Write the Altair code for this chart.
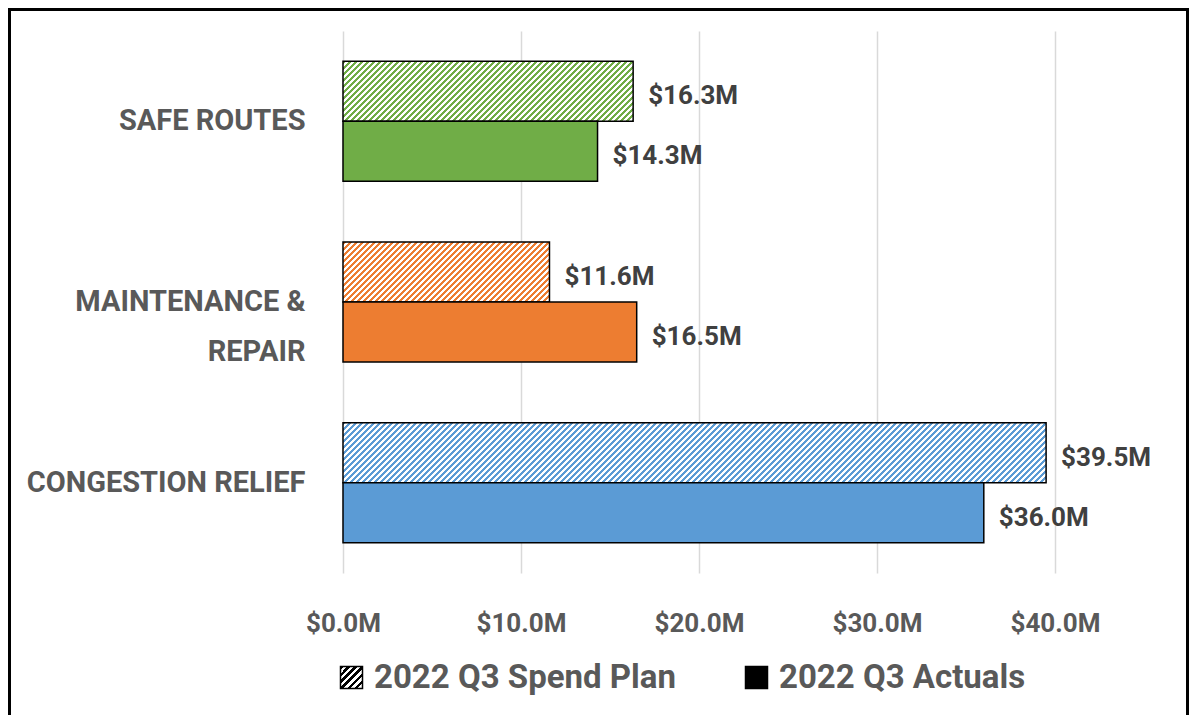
import math
import altair as alt
import pandas as pd

# ---- data ----
categories = ["SAFE ROUTES", "MAINTENANCE & REPAIR", "CONGESTION RELIEF"]
series = ["2022 Q3 Spend Plan", "2022 Q3 Actuals"]
plan_values = [16.3, 11.6, 39.5]
actual_values = [14.3, 16.5, 36.0]
x_ticks = [0, 10, 20, 30, 40]

# ---- styling ----
cat_colors = ["#70AD47", "#ED7D31", "#5B9BD5"]
FONT = "Roboto"
GRAY = "#595959"
W_PLOT, H_PLOT = 712, 542
X_MAX = 40
BAR_H = 60
PITCH = 6


def hatch(color, w, h, pitch=PITCH):
    """Diagonal '///' stripes made from a hard-stop linear gradient
    (exact pitch in pixels along x, so the stripes stay crisp)."""
    n = max(1, math.ceil((w + h) / pitch))
    span = n * pitch
    k = span * w / (w * w + h * h)
    stops = []
    for i in range(n):
        a, m, b = i / n, (i + 0.5) / n, (i + 1) / n
        stops += [
            {"offset": round(a, 6), "color": color},
            {"offset": round(m, 6), "color": color},
            {"offset": round(m, 6), "color": "#FFFFFF"},
            {"offset": round(b, 6), "color": "#FFFFFF"},
        ]
    return {"gradient": "linear", "x1": 0, "y1": 0, "x2": k, "y2": k * h / w, "stops": stops}


rows = []
for c, p, a in zip(categories, plan_values, actual_values):
    rows.append({"cat": c, "series": series[0], "amount": p})
    rows.append({"cat": c, "series": series[1], "amount": a})
df = pd.DataFrame(rows)

plan_conds, actual_conds = [], []
for c, col, p in zip(categories, cat_colors, plan_values):
    w = p / X_MAX * W_PLOT
    plan_conds.append({"test": f"datum.cat === '{c}'", "value": hatch(col, w, BAR_H)})
    actual_conds.append({"test": f"datum.cat === '{c}'", "value": col})

# second line of the two-line label is centred under the first (as in the original);
# trailing non-collapsing spaces shift it inside the right-aligned label block
label_expr = (
    "datum.label == 'MAINTENANCE & REPAIR' ? "
    "['MAINTENANCE &', 'REPAIR\u2003\u2003\u2009\u200a'] : datum.label"
)

y_enc = alt.Y(
    "cat:N",
    sort=categories,
    scale=alt.Scale(paddingInner=0.336, paddingOuter=0.168),
    axis=alt.Axis(
        title=None, domain=False, ticks=False, grid=False,
        labelFont=FONT, labelFontSize=29, labelFontWeight="bold", labelColor=GRAY,
        labelPadding=38, labelLimit=500, labelLineHeight=50,
        labelExpr=label_expr,
    ),
)
yoff_enc = alt.YOffset("series:N", sort=series, scale=alt.Scale(paddingInner=0, paddingOuter=0))
x_enc = alt.X(
    "amount:Q",
    scale=alt.Scale(domain=[0, X_MAX], nice=False),
    axis=alt.Axis(
        title=None, domain=False, ticks=False, values=x_ticks, labelFlush=False,
        gridColor="#D9D9D9", gridWidth=1.5,
        labelFont=FONT, labelFontSize=26, labelFontWeight="bold", labelColor=GRAY,
        labelPadding=37, labelExpr="'$' + format(datum.value, '.1f') + 'M'",
    ),
)


def legend_for(x):
    return alt.Legend(
        title=None, orient="none", legendX=x, legendY=630, direction="horizontal",
        symbolType="square", symbolSize=484, symbolStrokeWidth=1.5, symbolOpacity=1,
        labelFont=FONT, labelFontSize=33, labelFontWeight="bold", labelColor=GRAY,
        labelOffset=6, labelLimit=600, padding=0,
    )


base = alt.Chart(df)

plan_bars = base.transform_filter(
    alt.datum.series == series[0]
).mark_bar(stroke="#000000", strokeWidth=1.5).encode(
    x=x_enc,
    y=y_enc,
    yOffset=yoff_enc,
    fill=alt.FillValue(value=hatch("#000000", 22, 22, 7), condition=plan_conds),
    opacity=alt.Opacity("series:N", scale=alt.Scale(domain=[series[0]], range=[1, 1]),
                        legend=legend_for(-8)),
)

actual_bars = base.transform_filter(
    alt.datum.series == series[1]
).mark_bar(stroke="#000000", strokeWidth=1.5).encode(
    x=x_enc,
    y=y_enc,
    yOffset=yoff_enc,
    fill=alt.FillValue(value="#000000", condition=actual_conds),
    opacity=alt.Opacity("series:N", scale=alt.Scale(domain=[series[1]], range=[1, 1]),
                        legend=legend_for(397)),
)

labels = base.transform_calculate(
    label="'$' + format(datum.amount, '.1f') + 'M'"
).mark_text(
    align="left", baseline="middle", dx=15, dy=5,
    font=FONT, fontSize=26, fontWeight="bold", color="#404040",
).encode(
    x=alt.X("amount:Q"),
    y=alt.Y("cat:N", sort=categories),
    yOffset=alt.YOffset("series:N", sort=series),
    text="label:N",
)

frame = alt.Chart(pd.DataFrame({"f": [0]})).mark_rect(
    fillOpacity=0, stroke="#000000", strokeWidth=3
).encode(
    x=alt.value(-333.5), x2=alt.value(844.5), y=alt.value(-21.5), y2=alt.value(720)
)

chart = alt.layer(plan_bars, actual_bars, labels, frame).resolve_scale(
    opacity="independent"
).resolve_legend(
    opacity="independent"
).properties(
    width=W_PLOT, height=H_PLOT,
    padding={"left": 335, "top": 23, "right": 134, "bottom": 142},
    autosize=alt.AutoSizeParams(type="none"),
).configure_view(stroke=None)

chart.save("out.html", embed_options={"renderer": "svg", "actions": False})
